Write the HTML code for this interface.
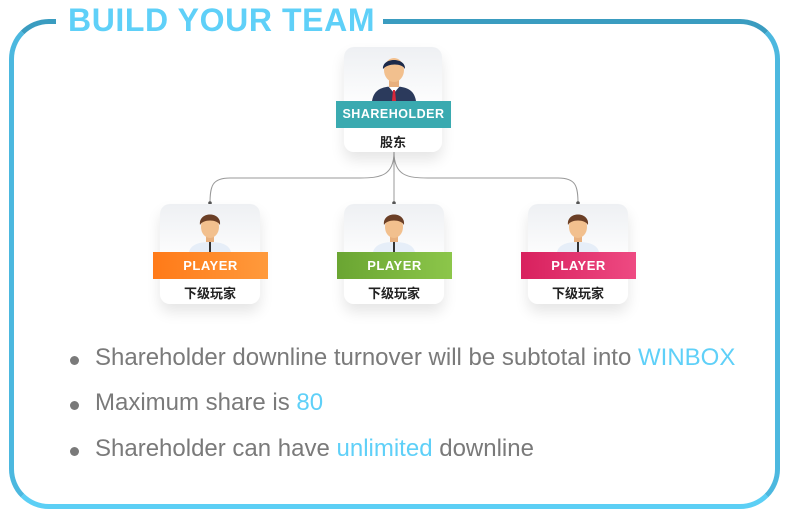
<!DOCTYPE html>
<html><head><meta charset="utf-8"><style>
body{margin:0;width:786px;height:516px;background:#fff;position:relative;overflow:hidden;font-family:"Liberation Sans","Noto Sans CJK SC",sans-serif}
.frame{position:absolute;left:9px;top:19px;width:761px;height:480px;border:5px solid;border-radius:40px;border-color:#3a9cc0 #4cb8df #5ccff5 #4cb8df;background:#fff}
.gap{position:absolute;left:56px;top:12px;width:327px;height:16px;background:#fff}
.title{position:absolute;left:68px;top:2px;font-weight:bold;font-size:32px;color:#5fd0f8;letter-spacing:0.6px}
.card{position:absolute;width:100px;background:linear-gradient(#eef0f3,#fff 60%);border-radius:10px;box-shadow:0 8px 14px rgba(0,0,0,0.10)}
.banner{position:absolute;height:27px;color:#fff;font-weight:bold;font-size:13px;text-align:center;line-height:27px;letter-spacing:0.5px}
.cn{position:absolute;width:100%;text-align:center;font-size:13px;color:#222;font-weight:bold}
.li{position:absolute;left:95px;font-size:24px;color:#7a7a7a}
.li:before{content:"";position:absolute;left:-25px;top:12px;width:9px;height:9px;border-radius:50%;background:#7a7a7a}
.h{color:#5fd0f8}
</style></head><body>
<div class="frame"></div>
<div class="gap"></div>
<div class="title">BUILD YOUR TEAM</div>
<svg width="786" height="516" style="position:absolute;left:0;top:0">
<path d="M394 152 C394 176 380 178 360 178 L230 178 C212 178 210 186 210 204" fill="none" stroke="#999" stroke-width="1"/>
<path d="M394 152 C394 176 408 178 428 178 L558 178 C576 178 578 186 578 204" fill="none" stroke="#999" stroke-width="1"/>
<path d="M394 152 L394 204" stroke="#999" stroke-width="1"/>
<circle cx="210" cy="203" r="1.8" fill="#555"/><circle cx="394" cy="203" r="1.8" fill="#555"/><circle cx="578" cy="203" r="1.8" fill="#555"/>
</svg>
<div class="card" style="left:344px;top:47px;height:105px;width:98px"></div>
<svg width="60" height="50" style="position:absolute;left:364px;top:53px">
<path d="M8 48 C10 36 18 34 30 33 C42 34 50 36 52 48Z" fill="#2b3a5c"/>
<path d="M24 33 L30 40 L36 33Z" fill="#fff"/><path d="M29 37 L31 37 L32 48 L28 48Z" fill="#d8283a"/>
<rect x="25" y="25" width="10" height="9" fill="#e8b07e"/>
<ellipse cx="30" cy="17" rx="10" ry="12" fill="#f2c08e"/>
<path d="M19 16 C18 4 42 4 41 16 C38 10 24 10 19 16Z" fill="#1c2a4a"/>
</svg>
<div class="banner" style="left:336px;top:101px;width:115px;background:#3aaab0;font-size:12.5px">SHAREHOLDER</div>
<div class="cn" style="left:344px;top:132px;width:98px">股东</div>

<div class="card" style="left:160px;top:204px;height:100px"></div>
<div class="card" style="left:344px;top:204px;height:100px"></div>
<div class="card" style="left:528px;top:204px;height:100px"></div>
<svg width="786" height="60" style="position:absolute;left:0;top:208px">
<g id="p"><path d="M189 44 C191 36 200 34 210 34 C220 34 229 36 231 44Z" fill="#e6eef8"/><rect x="209" y="34" width="2" height="10" fill="#333"/>
<rect x="206" y="26" width="8" height="8" fill="#e8b07e"/><ellipse cx="210" cy="19" rx="9" ry="11" fill="#f2c08e"/>
<path d="M200 17 C198 3 222 3 220 17 C217 11 203 11 200 17Z" fill="#6b3f26"/></g>
<use href="#p" x="184"/><use href="#p" x="368"/>
</svg>
<div class="banner" style="left:153px;top:252px;width:115px;background:linear-gradient(90deg,#ff7a18,#ff9a3c)">PLAYER</div>
<div class="banner" style="left:337px;top:252px;width:115px;background:linear-gradient(90deg,#6aa532,#8cc64a)">PLAYER</div>
<div class="banner" style="left:521px;top:252px;width:115px;background:linear-gradient(90deg,#d8215e,#ee4a82)">PLAYER</div>
<div class="cn" style="left:160px;top:283px;width:100px">下级玩家</div>
<div class="cn" style="left:344px;top:283px;width:100px">下级玩家</div>
<div class="cn" style="left:528px;top:283px;width:100px">下级玩家</div>

<div class="li" style="top:344px">Shareholder downline turnover will be subtotal into <span class="h">WINBOX</span></div>
<div class="li" style="top:389px">Maximum share is <span class="h">80</span></div>
<div class="li" style="top:435px">Shareholder can have <span class="h">unlimited</span> downline</div>
</body></html>
